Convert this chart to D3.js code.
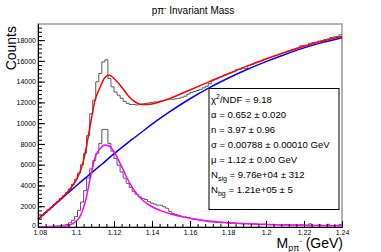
<!DOCTYPE html>
<html>
<head>
<meta charset="utf-8">
<script src="https://cdn.jsdelivr.net/npm/d3@7/dist/d3.min.js"></script>
<style>
body { margin: 0; background: #fff; }
text { font-family: "Liberation Sans", Arial, Helvetica, sans-serif; }
</style>
</head>
<body>
<div id="chart"></div>
<script>
// histogram binning
var binLow = 1.08;
var binWidth = 0.0016;

// p pi- total counts per bin (100 bins)
var histTotal = [
  880, 1130, 1400, 1650, 1900, 2200, 2450, 2750, 3000, 3300,
  3650, 4100, 4600, 5200, 6000, 7100, 8800, 10900, 12220, 13980,
  14790, 15900, 16100, 14300, 13500, 13000, 12700, 12400, 12100, 11900,
  11800, 11800, 11750, 11800, 11850, 11900, 11950, 12000, 12050, 12050,
  12150, 12200, 12250, 12300, 12300, 12350, 12400, 12500, 12600, 12800,
  12950, 13050, 13150, 13250, 13400, 13550, 13800, 14150, 14250, 14400,
  14500, 14650, 14750, 14850, 14950, 15150, 15200, 15300, 15250, 15550,
  15650, 15800, 15900, 16000, 16150, 16250, 16350, 16450, 16550, 16650,
  16750, 16850, 16950, 17050, 17150, 17250, 17450, 17500, 17500, 17700,
  17750, 17800, 17900, 17950, 18050, 18100, 18250, 18300, 18350, 18500
];

// background subtracted counts per bin
var histSignal = [
  40, 50, 60, 70, 80, 100, 110, 130, 180, 250,
  400, 650, 1000, 1600, 2400, 3500, 4700, 5600, 6400, 7100,
  8050, 9400, 9400, 8050, 7300, 6600, 5950, 5300, 4700, 4200,
  3800, 3400, 3150, 2900, 2750, 2650, 2450, 2300, 2200, 2100,
  2100, 1950, 1800, 1500, 1300, 1200, 1100, 1000, 950, 900,
  800, 750, 700, 650, 600, 550, 500, 480, 450, 430,
  400, 420, 380, 360, 400, 350, 330, 300, 340, 310,
  280, 300, 260, 250, 280, 240, 220, 250, 230, 210,
  200, 240, 200, 180, 200, 170, 220, 180, 160, 300,
  170, 150, 200, 160, 140, 260, 150, 130, 170, 250
];

// fit curves sampled along mass
var massGrid = [1.080, 1.085, 1.090, 1.095, 1.0975, 1.100, 1.1025, 1.105, 1.1075, 1.110,
  1.1125, 1.115, 1.1175, 1.120, 1.1225, 1.125, 1.1275, 1.130, 1.135, 1.140,
  1.145, 1.150, 1.160, 1.170, 1.180, 1.190, 1.200, 1.210, 1.220, 1.230, 1.240];
var totFit = [750, 1560, 2380, 3250, 3800, 4500, 5490, 7250, 9800, 12200,
  13380, 14350, 14650, 14300, 13820, 13240, 12650, 12200, 11800, 11850,
  12100, 12430, 13200, 13980, 14750, 15490, 16180, 16820, 17410, 17920, 18350];
var bkgFit = [750, 1550, 2350, 3150, 3550, 3950, 4340, 4730, 5120, 5500,
  5880, 6250, 6680, 7050, 7420, 7790, 8150, 8500, 9200, 9900,
  10550, 11180, 12350, 13400, 14330, 15170, 15930, 16620, 17250, 17780, 18230];
var sigFit = [0, 10, 30, 100, 250, 550, 1150, 2500, 4700, 6700,
  7500, 7900, 7800, 7250, 6400, 5450, 4500, 3700, 2600, 1950,
  1550, 1250, 850, 580, 420, 320, 250, 200, 165, 140, 120];

var yTicks = [0, 2000, 4000, 6000, 8000, 10000, 12000, 14000, 16000, 18000];
var xTicks = [1.08, 1.10, 1.12, 1.14, 1.16, 1.18, 1.20, 1.22, 1.24];
var xTickLabels = ["1.08", "1.1", "1.12", "1.14", "1.16", "1.18", "1.2", "1.22", "1.24"];

// fit results for the stats box
var statLines = [
  ["\u03c7", "2", "sup", "/NDF = 9.18"],
  ["\u03b1 = 0.652 \u00b1 0.020"],
  ["n = 3.97 \u00b1 0.96"],
  ["\u03c3 = 0.00788 \u00b1 0.00010 GeV"],
  ["\u03bc = 1.12 \u00b1 0.00 GeV"],
  ["N", "sig", "sub", " = 9.76e+04 \u00b1 312"],
  ["N", "bg", "sub", " = 1.21e+05 \u00b1 5"]
];

var W = 381, H = 252;
var margin = {left: 38, right: 39, top: 24, bottom: 25};
var x0 = margin.left, x1 = W - margin.right, y0 = H - margin.bottom, y1 = margin.top;

var svg = d3.select("#chart").append("svg")
  .attr("width", W)
  .attr("height", H);

var x = d3.scaleLinear().domain([1.08, 1.24]).range([x0, x1]);
var y = d3.scaleLinear().domain([0, 19550]).range([y0, y1]);

// frame
svg.append("rect")
  .attr("x", x0).attr("y", y1)
  .attr("width", x1 - x0).attr("height", y0 - y1)
  .attr("fill", "none")
  .attr("stroke", "#9a9a9a")
  .attr("stroke-width", 1.5);

// histograms as steps
function stepPts(vals) {
  var pts = vals.map(function(v, i) { return [binLow + i * binWidth, v]; });
  pts.push([binLow + vals.length * binWidth, vals[vals.length - 1]]);
  return pts;
}
var stepLine = d3.line()
  .x(function(d) { return x(d[0]); })
  .y(function(d) { return y(d[1]); })
  .curve(d3.curveStepAfter);

svg.append("path")
  .datum(stepPts(histTotal))
  .attr("fill", "none")
  .attr("stroke", "#5a5a5a")
  .attr("stroke-width", 1)
  .attr("d", stepLine);

svg.append("path")
  .datum(stepPts(histSignal))
  .attr("fill", "none")
  .attr("stroke", "#5a5a5a")
  .attr("stroke-width", 1)
  .attr("d", stepLine);

// fit curves
var fitLine = d3.line()
  .x(function(d) { return x(d[0]); })
  .y(function(d) { return y(d[1]); })
  .curve(d3.curveMonotoneX);

function curvePts(vals) {
  return massGrid.map(function(m, i) { return [m, vals[i]]; });
}

svg.append("path")
  .datum(curvePts(bkgFit))
  .attr("fill", "none")
  .attr("stroke", "#0000ff")
  .attr("stroke-width", 1.5)
  .attr("d", fitLine);

svg.append("path")
  .datum(curvePts(sigFit))
  .attr("fill", "none")
  .attr("stroke", "#ff00ff")
  .attr("stroke-width", 1.5)
  .attr("d", fitLine);

svg.append("path")
  .datum(curvePts(totFit))
  .attr("fill", "none")
  .attr("stroke", "#ff0000")
  .attr("stroke-width", 1.5)
  .attr("d", fitLine);

// axes, ticks pointing inward like ROOT
var yAxis = svg.append("g")
  .attr("transform", "translate(" + x0 + ",0)")
  .call(d3.axisLeft(y).tickValues(yTicks).tickSize(-7).tickSizeOuter(0).tickPadding(2)
    .tickFormat(d3.format("d")));
svg.append("g")
  .attr("transform", "translate(" + x0 + ",0)")
  .call(d3.axisLeft(y).tickValues(d3.range(0, 19550, 400)).tickSize(-4).tickSizeOuter(0)
    .tickFormat(""));
// lift the "0" a little so it clears 1.08
yAxis.selectAll(".tick text").filter(function(d) { return d === 0; }).attr("dy", "0.1em");

var xAxis = svg.append("g")
  .attr("transform", "translate(0," + y0 + ")")
  .call(d3.axisBottom(x).tickValues(xTicks).tickSize(-6).tickSizeOuter(0).tickPadding(3)
    .tickFormat(function(d, i) { return xTickLabels[i]; }));
svg.append("g")
  .attr("transform", "translate(0," + y0 + ")")
  .call(d3.axisBottom(x).tickValues(d3.range(1.08, 1.2401, 0.004)).tickSize(-3).tickSizeOuter(0)
    .tickFormat(""));
xAxis.selectAll(".tick text").filter(function(d, i) { return i === 0; }).attr("dx", "0.25em");

svg.selectAll(".tick text")
  .style("font-size", "7px")
  .style("font-family", "'Liberation Sans', Arial, sans-serif");
svg.selectAll(".domain").attr("stroke", "#000");
svg.selectAll(".tick line").attr("stroke", "#000");

// title
var title = svg.append("text")
  .attr("x", 193).attr("y", 13.5)
  .attr("text-anchor", "middle")
  .style("font-size", "10px");
title.append("tspan").text("p\u03c0");
title.append("tspan").attr("dy", -4).style("font-size", "7px").text("-");
title.append("tspan").attr("dy", 4).text(" Invariant Mass");

// y title
svg.append("text")
  .attr("transform", "translate(16,26) rotate(-90)")
  .attr("text-anchor", "end")
  .style("font-size", "14px")
  .text("Counts");

// x title
var xt = svg.append("text")
  .attr("x", 343).attr("y", 248)
  .attr("text-anchor", "end")
  .style("font-size", "14px");
xt.append("tspan").text("M");
xt.append("tspan").attr("dy", 3).style("font-size", "9px").text("p\u03c0");
xt.append("tspan").attr("dy", -8).style("font-size", "7px").text("-");
xt.append("tspan").attr("dy", 5).text(" (GeV)");

// stats box
var box = svg.append("g");
box.append("rect")
  .attr("x", 209).attr("y", 88.5)
  .attr("width", 130).attr("height", 121)
  .attr("fill", "#fff")
  .attr("stroke", "#000")
  .attr("stroke-width", 1);

statLines.forEach(function(s, i) {
  var t = box.append("text")
    .attr("x", 211)
    .attr("y", 103 + i * 15)
    .style("font-size", "9.6px");
  if (s.length == 1) {
    t.text(s[0]);
  } else {
    t.append("tspan").text(s[0]);
    var shift = s[2] == "sup" ? -4 : 2.5;
    t.append("tspan").attr("dy", shift).style("font-size", "7px").text(s[1]);
    t.append("tspan").attr("dy", -shift).text(s[3]);
  }
});
</script>
</body>
</html>
